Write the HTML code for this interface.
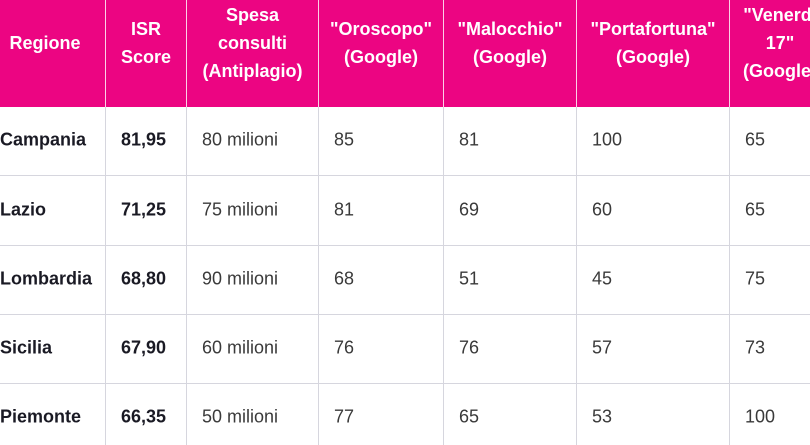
<!DOCTYPE html>
<html><head><meta charset="utf-8"><style>
body{margin:0;width:810px;height:445px;overflow:hidden;background:#fff;font-family:"Liberation Sans",sans-serif;position:relative}
.hdr{position:absolute;left:0;top:0;width:810px;height:107px;background:#ec0582}
.vl{position:absolute;top:0;width:1px;height:445px;background:#d6d6de}
.vw{position:absolute;top:0;width:1px;height:107px;background:#fbd0e6}
.hl{position:absolute;left:0;width:810px;height:1px;background:#d6d6de}
.h{position:absolute;color:#fff;font-weight:bold;font-size:18px;line-height:28px;text-align:center;transform:translateY(-50%);top:43px}
.c{position:absolute;font-size:18px;color:#3a3a3a;transform:translateY(-50%);white-space:nowrap}
.b{font-weight:bold;color:#1a1a24}
</style></head><body>
<div class="hdr"></div>
<div class="vl" style="left:105px"></div><div class="vl" style="left:186px"></div><div class="vl" style="left:318px"></div><div class="vl" style="left:443px"></div><div class="vl" style="left:576px"></div><div class="vl" style="left:729px"></div>
<div class="vw" style="left:105px"></div><div class="vw" style="left:186px"></div><div class="vw" style="left:318px"></div><div class="vw" style="left:443px"></div><div class="vw" style="left:576px"></div><div class="vw" style="left:729px"></div>
<div class="hl" style="top:175px"></div><div class="hl" style="top:245px"></div><div class="hl" style="top:314px"></div><div class="hl" style="top:383px"></div>
<div class="h" style="left:-16px;width:122px">Regione</div>
<div class="h" style="left:106px;width:80px">ISR<br>Score</div>
<div class="h" style="left:187px;width:131px">Spesa<br>consulti<br>(Antiplagio)</div>
<div class="h" style="left:319px;width:124px">"Oroscopo"<br>(Google)</div>
<div class="h" style="left:444px;width:132px">"Malocchio"<br>(Google)</div>
<div class="h" style="left:577px;width:152px">"Portafortuna"<br>(Google)</div>
<div class="h" style="left:730px;width:100px;white-space:nowrap">"Venerdì<br>17"<br>(Google)</div>

<div class="c b" style="left:0;top:140px">Campania</div>
<div class="c b" style="left:0;top:210px">Lazio</div>
<div class="c b" style="left:0;top:279px">Lombardia</div>
<div class="c b" style="left:0;top:348px">Sicilia</div>
<div class="c b" style="left:0;top:417px">Piemonte</div>

<div class="c b" style="left:121px;top:140px">81,95</div>
<div class="c b" style="left:121px;top:210px">71,25</div>
<div class="c b" style="left:121px;top:279px">68,80</div>
<div class="c b" style="left:121px;top:348px">67,90</div>
<div class="c b" style="left:121px;top:417px">66,35</div>

<div class="c" style="left:202px;top:140px">80 milioni</div>
<div class="c" style="left:202px;top:210px">75 milioni</div>
<div class="c" style="left:202px;top:279px">90 milioni</div>
<div class="c" style="left:202px;top:348px">60 milioni</div>
<div class="c" style="left:202px;top:417px">50 milioni</div>

<div class="c" style="left:334px;top:140px">85</div>
<div class="c" style="left:334px;top:210px">81</div>
<div class="c" style="left:334px;top:279px">68</div>
<div class="c" style="left:334px;top:348px">76</div>
<div class="c" style="left:334px;top:417px">77</div>

<div class="c" style="left:459px;top:140px">81</div>
<div class="c" style="left:459px;top:210px">69</div>
<div class="c" style="left:459px;top:279px">51</div>
<div class="c" style="left:459px;top:348px">76</div>
<div class="c" style="left:459px;top:417px">65</div>

<div class="c" style="left:592px;top:140px">100</div>
<div class="c" style="left:592px;top:210px">60</div>
<div class="c" style="left:592px;top:279px">45</div>
<div class="c" style="left:592px;top:348px">57</div>
<div class="c" style="left:592px;top:417px">53</div>

<div class="c" style="left:745px;top:140px">65</div>
<div class="c" style="left:745px;top:210px">65</div>
<div class="c" style="left:745px;top:279px">75</div>
<div class="c" style="left:745px;top:348px">73</div>
<div class="c" style="left:745px;top:417px">100</div>
</body></html>
